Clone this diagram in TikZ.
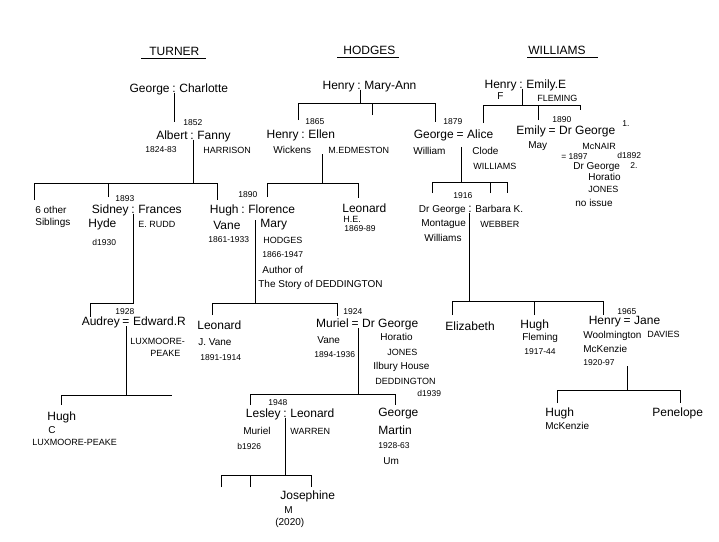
\documentclass[tikz,border=0pt]{standalone}
\usepackage{fontspec}
\setmainfont{Liberation Sans}
\usetikzlibrary{positioning}
\begin{document}
\begin{tikzpicture}[x=1pt,y=-1pt,line width=0.7pt,
    txt/.style={inner sep=0pt,anchor=west},
    hdr/.style={txt,font=\fontsize{12}{12}\selectfont},
    nm/.style={txt,font=\fontsize{12}{12}\selectfont},
    md/.style={txt,font=\fontsize{10}{10}\selectfont},
    yr/.style={txt,font=\fontsize{8.5}{8.5}\selectfont},
    cp/.style={txt,font=\fontsize{9}{9}\selectfont},
    sg/.style={inner sep=0pt,font=\fontsize{12}{12}\selectfont},
    lft/.style={anchor=base east,xshift=-2pt},
    rgt/.style={anchor=base west,xshift=3pt}]
  \useasboundingbox (0,0) rectangle (719,541);

  % family names
  \node[hdr] (turner) at (149,51) {TURNER};
  \node[hdr] (hodges) at (343,50) {HODGES};
  \node[hdr] (williams) at (528,50) {WILLIAMS};
  \draw ([xshift=-8pt,yshift=-3pt]turner.south west) -- ([xshift=6pt,yshift=-3pt]turner.south east);
  \draw ([xshift=-6pt,yshift=-3pt]hodges.south west) -- ([xshift=3pt,yshift=-3pt]hodges.south east);
  \draw ([xshift=-1pt,yshift=-3pt]williams.south west) -- ([xshift=12pt,yshift=-3pt]williams.south east);

  % Turner
  \node[sg] (gcm) at (174,89) {:};
  \node[nm,lft] (george) at (gcm.base west) {George};
  \node[nm,rgt] (charlotte) at (gcm.base east) {Charlotte};
  \coordinate (c-albert) at (174,122);
  \draw (gcm.south) -- (c-albert);

  \node[yr] (y1852) at (183,123) {1852};
  \node[sg] (afm) at (192,136) {:};
  \node[nm,lft] (albert) at (afm.base west) {Albert};
  \node[nm,rgt] (fanny) at (afm.base east) {Fanny};
  \node[yr] (albertd) at (145,150) {1824-83};
  \node[cp] (harrison) at (203,150) {HARRISON};

  \coordinate (f-af) at (193,183);
  \coordinate (c-sib) at (34,200);
  \coordinate (c-sidney) at (108,197);
  \coordinate (c-hugh) at (217,200);
  \draw (f-af |- afm.south) -- (f-af);
  \draw (c-sib) -- (c-sib |- f-af) -- (c-hugh |- f-af) -- (c-hugh);
  \draw (c-sidney) -- (c-sidney |- f-af);

  \node[md] (sib1) at (35,210) {6 other};
  \node[md] (sib2) at (35,223) {Siblings};

  \node[yr] (y1893) at (115,199) {1893};
  \node[sg] (sfm) at (133,210) {:};
  \node[nm,lft] (sidney) at (sfm.base west) {Sidney};
  \node[nm,rgt] (frances) at (sfm.base east) {Frances};
  \node[nm] (hyde) at (88,224) {Hyde};
  \node[cp] (rudd) at (138,224) {E. RUDD};
  \node[yr] (sidneyd) at (92,242) {d1930};

  \coordinate (f-sf) at (133,303);
  \coordinate (c-audrey) at (90,317);
  \draw (f-sf |- sfm.south) -- (f-sf) -- (c-audrey |- f-sf) -- (c-audrey);

  \node[yr] (y1928) at (115,312) {1928};
  \node[sg] (aem) at (126,323) {=};
  \node[nm,lft] (audrey) at (aem.base west) {Audrey};
  \node[nm,rgt] (edward) at (aem.base east) {Edward.R};
  \node[cp] (lux) at (130,341) {LUXMOORE-};
  \node[cp] (peake) at (150,353) {PEAKE};

  \coordinate (f-ae) at (126,395);
  \coordinate (e-ae) at (172,395);
  \coordinate (c-hughc) at (61,405);
  \draw (f-ae |- aem.south) -- (f-ae);
  \draw (c-hughc) -- (c-hughc |- f-ae) -- (e-ae);
  \node[nm] (hughc) at (47,417) {Hugh};
  \node[md] (hughci) at (48,430) {C};
  \node[cp] (hughcs) at (32,442) {LUXMOORE-PEAKE};

  % Hugh and Florence
  \node[yr] (y1890a) at (238,195) {1890};
  \node[sg] (hfm) at (243,210) {:};
  \node[nm,lft] (hugh) at (hfm.base west) {Hugh};
  \node[nm,rgt] (florence) at (hfm.base east) {Florence};
  \node[nm] (vane) at (213,225) {Vane};
  \node[nm] (mary) at (260,225) {Mary};
  \node[yr] (hughd) at (208,240) {1861-1933};
  \node[cp] (hodgesf) at (263,240) {HODGES};
  \node[yr] (florenced) at (262,255) {1866-1947};
  \node[md] (author) at (262,270) {Author of};
  \node[md] (story) at (258,285) {The Story of DEDDINGTON};

  \coordinate (f-hf) at (255,303);
  \coordinate (c-leoj) at (212,315);
  \coordinate (c-muriel) at (337,316);
  \draw (f-hf |- vane.north) -- (f-hf);
  \draw (c-leoj) -- (c-leoj |- f-hf) -- (c-muriel |- f-hf) -- (c-muriel);

  \node[nm] (leoj) at (197,325) {Leonard};
  \node[md] (leoj2) at (198,342) {J. Vane};
  \node[yr] (leojd) at (200,358) {1891-1914};

  % Muriel and Dr George Jones
  \node[yr] (y1924) at (343,312) {1924};
  \node[sg] (mgm) at (355,325) {=};
  \node[nm,lft] (muriel) at (mgm.base west) {Muriel};
  \node[nm,rgt] (drgj) at (mgm.base east) {Dr George};
  \node[md] (murielv) at (317,340) {Vane};
  \node[yr] (murield) at (314,355) {1894-1936};
  \node[md] (horatio) at (380,337) {Horatio};
  \node[cp] (jones) at (387,352) {JONES};
  \node[md] (ilbury) at (373,367) {Ilbury House};
  \node[cp] (dedd) at (375,381) {DEDDINGTON};
  \node[yr] (drgjd) at (417,393) {d1939};

  \coordinate (f-mg) at (358,394);
  \coordinate (c-lesley) at (250,405);
  \coordinate (c-georgem) at (395,405);
  \draw (f-mg |- mgm.south) -- (f-mg);
  \draw (c-lesley) -- (c-lesley |- f-mg) -- (c-georgem |- f-mg) -- (c-georgem);

  \node[yr] (y1948) at (268,403) {1948};
  \node[sg] (llm) at (285,414) {:};
  \node[nm,lft] (lesley) at (llm.base west) {Lesley};
  \node[nm,rgt] (leonardw) at (llm.base east) {Leonard};
  \node[md] (lesleym) at (243,431) {Muriel};
  \node[cp] (warren) at (290,431) {WARREN};
  \node[yr] (lesleyb) at (237,446) {b1926};

  \coordinate (f-ll) at (285,475);
  \coordinate (c-k1) at (221,487);
  \coordinate (c-k2) at (250,487);
  \coordinate (c-jos) at (311,487);
  \draw (f-ll |- llm.south) -- (f-ll);
  \draw (c-k1) -- (c-k1 |- f-ll) -- (c-jos |- f-ll) -- (c-jos);
  \draw (c-k2) -- (c-k2 |- f-ll);
  \node[nm] (josephine) at (280,496) {Josephine};
  \node[md] (josephinem) at (284,510) {M};
  \node[md] (josephined) at (275,523) {(2020)};

  \node[nm] (georgem) at (378,414) {George};
  \node[nm] (martin) at (378,430) {Martin};
  \node[yr] (georgemd) at (378,446) {1928-63};
  \node[md] (georgemu) at (383,461) {Um};

  % Hodges
  \node[sg] (hmm) at (359,86) {:};
  \node[nm,lft] (henryh) at (hmm.base west) {Henry};
  \node[nm,rgt] (maryann) at (hmm.base east) {Mary-Ann};
  \coordinate (f-hm) at (360,103);
  \coordinate (c-henrye) at (298,120);
  \coordinate (c-mid) at (372,115);
  \coordinate (c-georgew) at (435,122);
  \draw (f-hm |- hmm.south) -- (f-hm);
  \draw (c-henrye) -- (c-henrye |- f-hm) -- (c-georgew |- f-hm) -- (c-georgew);
  \draw (c-mid) -- (c-mid |- f-hm);

  \node[yr] (y1865) at (305,122) {1865};
  \node[sg] (hem) at (303,135) {:};
  \node[nm,lft] (henrye) at (hem.base west) {Henry};
  \node[nm,rgt] (ellen) at (hem.base east) {Ellen};
  \node[md] (wickens) at (273,150) {Wickens};
  \node[cp] (edmeston) at (328,150) {M.EDMESTON};

  \coordinate (f-he) at (322,183);
  \coordinate (c-florence) at (267,197);
  \coordinate (c-leoh) at (358,198);
  \draw (f-he |- wickens.south) -- (f-he);
  \draw (c-florence) -- (c-florence |- f-he) -- (c-leoh |- f-he) -- (c-leoh);

  \node[nm] (leoh) at (342,208) {Leonard};
  \node[cp] (leoh2) at (343,219) {H.E.};
  \node[yr] (leohd) at (344,229) {1869-89};

  % George William and Alice
  \node[yr] (y1879) at (443,122) {1879};
  \node[sg] (gam) at (460,136) {=};
  \node[nm,lft] (georgew) at (gam.base west) {George};
  \node[nm,rgt] (alice) at (gam.base east) {Alice};
  \node[md] (william) at (413,151) {William};
  \node[md] (clode) at (472,151) {Clode};
  \node[cp] (alicew) at (473,166) {WILLIAMS};

  \coordinate (f-ga) at (461,182);
  \coordinate (c-drgm) at (432,193);
  \coordinate (c-k3) at (490,193);
  \coordinate (c-k4) at (507,193);
  \draw (f-ga |- william.north) -- (f-ga);
  \draw (c-drgm) -- (c-drgm |- f-ga) -- (c-k4 |- f-ga) -- (c-k4);
  \draw (c-k3) -- (c-k3 |- f-ga);

  \node[yr] (y1916) at (453,196) {1916};
  \node[sg] (gbm) at (470,209) {:};
  \node[md,lft] (drgm) at (gbm.base west) {Dr George};
  \node[md,rgt] (barbara) at (gbm.base east) {Barbara K.};
  \node[md] (montague) at (421,224) {Montague};
  \node[md] (williamsg) at (424,238) {Williams};
  \node[cp] (webber) at (480,224) {WEBBER};

  \coordinate (f-gb) at (469,301);
  \coordinate (c-eliz) at (452,315);
  \coordinate (c-hughf) at (534,315);
  \coordinate (c-henryw) at (603,315);
  \draw (f-gb |- gbm.south) -- (f-gb);
  \draw (c-eliz) -- (c-eliz |- f-gb) -- (c-henryw |- f-gb) -- (c-henryw);
  \draw (c-hughf) -- (c-hughf |- f-gb);

  \node[nm] (eliz) at (445,326) {Elizabeth};
  \node[nm] (hughf) at (520,325) {Hugh};
  \node[md] (fleming) at (522,338) {Fleming};
  \node[yr] (hughfd) at (524,352) {1917-44};

  \node[yr] (y1965) at (617,312) {1965};
  \node[sg] (hjm) at (627,322) {=};
  \node[nm,lft] (henryw) at (hjm.base west) {Henry};
  \node[nm,rgt] (jane) at (hjm.base east) {Jane};
  \node[md] (woolm) at (583,336) {Woolmington};
  \node[cp] (davies) at (647,334) {DAVIES};
  \node[md] (mckenzie) at (583,349) {McKenzie};
  \node[yr] (henrywd) at (583,363) {1920-97};

  \coordinate (f-hj) at (627,390);
  \coordinate (c-hughm) at (557,403);
  \coordinate (c-pen) at (680,403);
  \draw (f-hj |- henrywd.south) -- (f-hj);
  \draw (c-hughm) -- (c-hughm |- f-hj) -- (c-pen |- f-hj) -- (c-pen);
  \node[nm] (hughm) at (545,413) {Hugh};
  \node[md] (hughm2) at (545,426) {McKenzie};
  \node[nm] (penelope) at (652,413) {Penelope};

  % Williams
  \node[sg] (hwm) at (521,85) {:};
  \node[nm,lft] (henryw2) at (hwm.base west) {Henry};
  \node[nm,rgt] (emilye) at (hwm.base east) {Emily.E};
  \node[md] (henryf) at (497,96) {F};
  \node[cp] (fleming2) at (537,98) {FLEMING};

  \coordinate (f-hw) at (522,105);
  \coordinate (c-alice) at (483,123);
  \coordinate (c-emily) at (538,120);
  \coordinate (c-k5) at (580,110);
  \draw (f-hw |- hwm.south) -- (f-hw);
  \draw (c-alice) -- (c-alice |- f-hw) -- (c-k5 |- f-hw) -- (c-k5);
  \draw (c-emily) -- (c-emily |- f-hw);

  \node[yr] (y1890b) at (552,120) {1890};
  \node[sg] (emm) at (552,132) {=};
  \node[nm,lft] (emily) at (emm.base west) {Emily};
  \node[nm,rgt] (drgn) at (emm.base east) {Dr George};
  \node[yr] (first) at (622,124) {1.};
  \node[md] (may) at (528,146) {May};
  \node[cp] (mcnair) at (582,146) {McNAIR};
  \node[yr] (drgnd) at (617,155) {d1892};
  \node[yr] (y1897) at (561,157) {= 1897};
  \node[md] (drgh) at (573,167) {Dr George};
  \node[yr] (second) at (630,166) {2.};
  \node[md] (horatio2) at (588,177) {Horatio};
  \node[cp] (jones2) at (588,189) {JONES};
  \node[md] (noissue) at (575,203) {no issue};
\end{tikzpicture}
\end{document}
